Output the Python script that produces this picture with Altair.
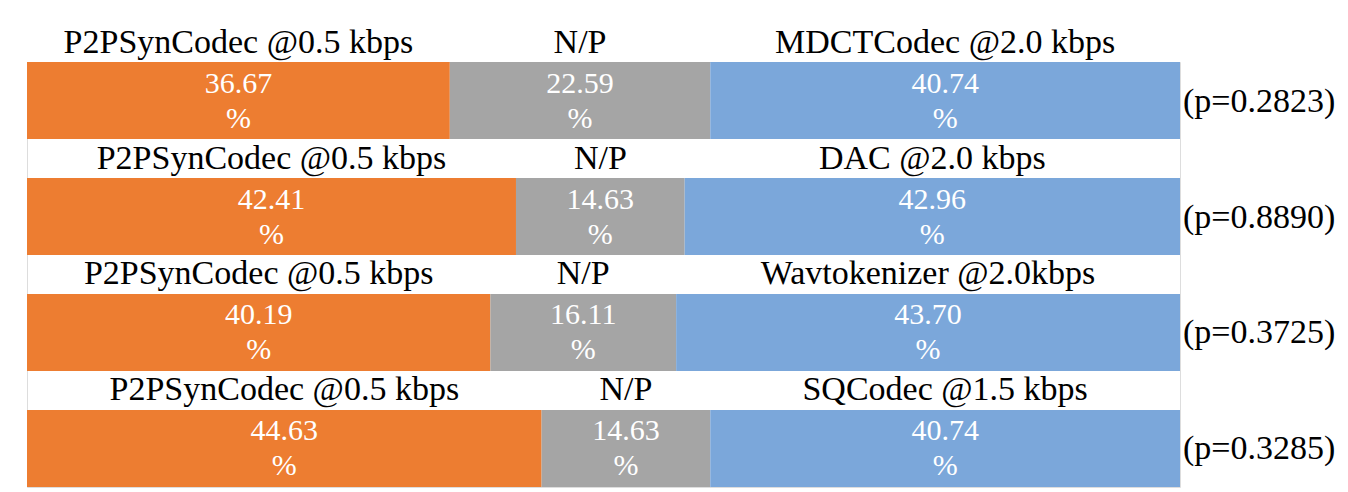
import altair as alt
import pandas as pd

rows = ["r1", "r2", "r3", "r4"]
left_labels = ["P2PSynCodec @0.5 kbps"] * 4
mid_labels = ["N/P"] * 4
right_labels = ["MDCTCodec @2.0 kbps", "DAC @2.0 kbps",
                "Wavtokenizer @2.0kbps", "SQCodec @1.5 kbps"]
prefer_p2p = [36.67, 42.41, 40.19, 44.63]
no_pref = [22.59, 14.63, 16.11, 14.63]
prefer_other = [40.74, 42.96, 43.70, 40.74]
p_values = ["(p=0.2823)", "(p=0.8890)", "(p=0.3725)", "(p=0.3285)"]

segments = ["p2p", "np", "other"]
seg_colors = ["#ED7D31", "#A5A5A5", "#7BA7DA"]

recs = []
for i, r in enumerate(rows):
    vals = [prefer_p2p[i], no_pref[i], prefer_other[i]]
    labs = [left_labels[i], mid_labels[i], right_labels[i]]
    start = 0.0
    for s, v, l in zip(segments, vals, labs):
        recs.append({"row": r, "segment": s, "value": v, "start": start,
                     "end": start + v, "mid": start + v / 2,
                     "label": l, "valtxt": f"{v:.2f}", "pct": "%"})
        start += v
df = pd.DataFrame(recs)
pdf = pd.DataFrame({"row": rows, "p": p_values, "x": [100.0] * 4})

FONT = "Liberation Serif"
xs = alt.Scale(domain=[0, 100], nice=False, zero=False)
ys = alt.Scale(domain=rows, paddingInner=0.336, paddingOuter=0)

base = alt.Chart(df)
Y = alt.Y("row:N", scale=ys, axis=None)

bars = base.mark_bar().encode(
    x=alt.X("start:Q", scale=xs, axis=None),
    x2="end:Q",
    y=Y,
    color=alt.Color("segment:N", scale=alt.Scale(domain=segments, range=seg_colors), legend=None),
)

labels = base.mark_text(font=FONT, fontSize=34, baseline="alphabetic", align="center",
                        dy=-48, color="black").encode(
    x=alt.X("mid:Q", scale=xs), y=Y, text="label:N")

vals = base.mark_text(font=FONT, fontSize=30, baseline="alphabetic", align="center",
                      dy=-8, color="white").encode(
    x=alt.X("mid:Q", scale=xs), y=Y, text="valtxt:N")

pct = base.mark_text(font=FONT, fontSize=30, baseline="alphabetic", align="center",
                     dy=27, color="white").encode(
    x=alt.X("mid:Q", scale=xs), y=Y, text="pct:N")

pv = alt.Chart(pdf).mark_text(font=FONT, fontSize=34, baseline="alphabetic", align="left",
                              dx=3, dy=11, color="black").encode(
    x=alt.X("x:Q", scale=xs), y=Y, text="p:N")

chart = alt.layer(bars, labels, vals, pct, pv).properties(
    width=1153, height=425,
    autosize=alt.AutoSizeParams(type="none"),
    padding={"left": 27, "top": 62, "right": 168, "bottom": 5},
).configure_view(stroke=None).configure(background="white")

chart.save("out.html", embed_options={"renderer": "svg", "actions": False})
